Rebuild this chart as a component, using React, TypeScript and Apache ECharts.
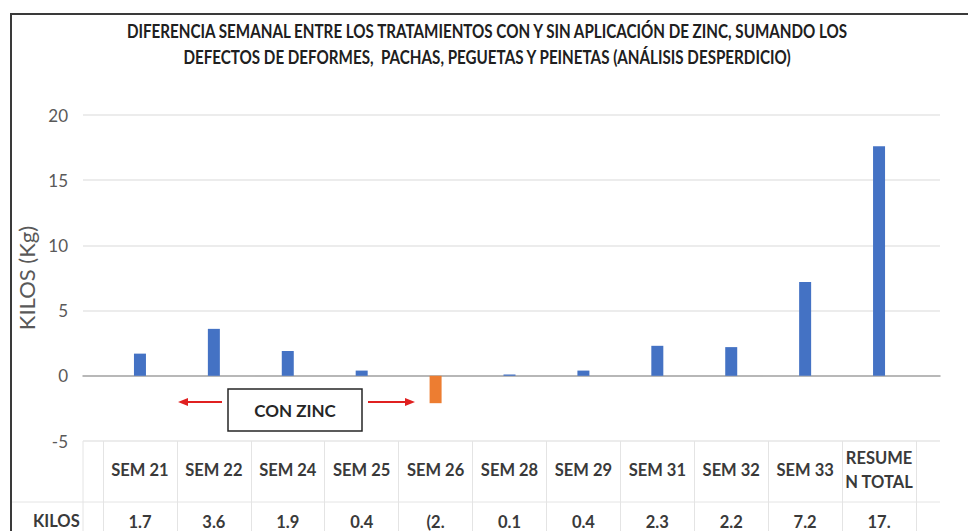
import React, { useEffect, useRef } from "react";
import * as echarts from "echarts";

const titleLines = [
  "DIFERENCIA SEMANAL ENTRE LOS TRATAMIENTOS CON Y SIN APLICACIÓN DE ZINC, SUMANDO LOS",
  "DEFECTOS DE DEFORMES,  PACHAS, PEGUETAS Y PEINETAS (ANÁLISIS DESPERDICIO)",
];
const categories = [
  "SEM 21", "SEM 22", "SEM 24", "SEM 25", "SEM 26", "SEM 28",
  "SEM 29", "SEM 31", "SEM 32", "SEM 33", "RESUME\nN TOTAL",
];
const values = [1.7, 3.6, 1.9, 0.4, -2.1, 0.1, 0.4, 2.3, 2.2, 7.2, 17.6];
const tableLabels = ["1.7", "3.6", "1.9", "0.4", "(2.", "0.1", "0.4", "2.3", "2.2", "7.2", "17."];
const seriesName = "KILOS";
const yAxisName = "KILOS (Kg)";
const yMin = -5;
const yMax = 20;
const yStep = 5;
const noteText = "CON ZINC";

const FONT = "Lato, 'Open Sans', sans-serif";

export default function App() {
  const ref = useRef<HTMLDivElement>(null);
  useEffect(() => {
    if (!ref.current) return;
    const chart = echarts.init(ref.current, null, { renderer: "svg" });
    const gridA = { left: 103, right: 52, top: 115, bottom: 90 };
    const gridB = { left: 83, right: 28, top: 115, bottom: 90 };
    const hiddenY = (gi: number) => ({
      type: "value", gridIndex: gi, min: yMin, max: yMax, interval: yStep,
      show: false, splitLine: { show: false },
    });
    const titleStyle = {
      fontFamily: FONT, fontWeight: "bold", fontSize: 19,
      fill: "#202020", align: "center", verticalAlign: "middle",
    };
    chart.setOption({
      animation: false,
      backgroundColor: "#ffffff",
      grid: [
        { ...gridA, containLabel: false },
        { ...gridB, containLabel: false },
        { ...gridA, containLabel: false },
      ],
      xAxis: [
        {
          type: "category", gridIndex: 0, data: categories, position: "bottom",
          axisLine: { show: false, onZero: false },
          axisTick: { show: true, length: 90, lineStyle: { color: "#e4e4e4" } },
          axisLabel: {
            margin: 29, verticalAlign: "middle", interval: 0,
            fontFamily: FONT, fontWeight: "bold", fontSize: 16.5, lineHeight: 24, color: "#3a3a3a",
          },
          splitLine: { show: false },
        },
        {
          type: "value", gridIndex: 1, min: 0, max: 1,
          axisLine: { show: true, onZero: true, lineStyle: { color: "#a6a6a6", width: 1.5 } },
          axisTick: { show: false }, axisLabel: { show: false }, splitLine: { show: false },
        },
        {
          type: "category", gridIndex: 2, data: tableLabels, position: "bottom",
          axisLine: { show: false, onZero: false }, axisTick: { show: false },
          axisLabel: {
            margin: 81, verticalAlign: "middle", interval: 0,
            fontFamily: FONT, fontWeight: "bold", fontSize: 16.5, color: "#3a3a3a",
          },
        },
      ],
      yAxis: [
        hiddenY(0),
        {
          type: "value", gridIndex: 1, min: yMin, max: yMax, interval: yStep,
          name: yAxisName, nameLocation: "middle", nameGap: 33,
          nameTextStyle: { fontFamily: FONT, fontSize: 22, color: "#595959" },
          axisLine: { show: false }, axisTick: { show: false },
          axisLabel: { margin: 15, fontFamily: FONT, fontSize: 17, color: "#595959" },
          splitLine: { show: true, lineStyle: { color: "#e6e6e6", width: 1.5 } },
        },
        hiddenY(2),
      ],
      series: [
        {
          name: seriesName, type: "bar", xAxisIndex: 0, yAxisIndex: 0,
          data: values, barWidth: 12,
          itemStyle: {
            color: (p: any) => (p.value < 0 ? "#ED7D31" : "#4472C4"),
          },
        },
      ],
      graphic: [
        {
          type: "text", x: 487, y: 31, scaleX: 0.8,
          style: { ...titleStyle, text: titleLines[0] },
        },
        {
          type: "text", x: 487, y: 57, scaleX: 0.8,
          style: { ...titleStyle, text: titleLines[1] },
        },
        {
          type: "rect", shape: { x: 11, y: 14, width: 1000, height: 600 },
          style: { fill: "none", stroke: "#3a3a3a", lineWidth: 2 }, silent: true, z: 100,
        },
        {
          type: "line", shape: { x1: 12, y1: 502, x2: 940, y2: 502 },
          style: { stroke: "#e4e4e4", lineWidth: 1 }, silent: true,
        },
        {
          type: "line", shape: { x1: 83, y1: 441, x2: 83, y2: 531 },
          style: { stroke: "#e4e4e4", lineWidth: 1 }, silent: true,
        },
        {
          type: "text", x: 33, y: 521,
          style: {
            text: seriesName, fontFamily: FONT, fontWeight: "bold", fontSize: 16.5,
            fill: "#3a3a3a", verticalAlign: "middle",
          },
        },
        {
          type: "rect", shape: { x: 228, y: 389, width: 134, height: 42 },
          style: { fill: "#ffffff", stroke: "#262626", lineWidth: 1.5 }, z: 50,
        },
        {
          type: "text", x: 295, y: 410, z: 51,
          style: {
            text: noteText, fontFamily: FONT, fontWeight: "bold", fontSize: 17,
            fill: "#262626", align: "center", verticalAlign: "middle",
          },
        },
        {
          type: "line", shape: { x1: 222, y1: 402, x2: 186, y2: 402 },
          style: { stroke: "#e02020", lineWidth: 2 }, z: 50,
        },
        {
          type: "polygon", shape: { points: [[178, 402], [188, 398], [188, 406]] },
          style: { fill: "#e02020" }, z: 50,
        },
        {
          type: "line", shape: { x1: 368, y1: 402, x2: 406, y2: 402 },
          style: { stroke: "#e02020", lineWidth: 2 }, z: 50,
        },
        {
          type: "polygon", shape: { points: [[415, 402], [405, 398], [405, 406]] },
          style: { fill: "#e02020" }, z: 50,
        },
      ],
    });
    return () => chart.dispose();
  }, []);
  return (
    <div
      ref={ref}
      style={{ position: "fixed", left: 0, top: 0, width: 968, height: 531, background: "#fff" }}
    />
  );
}
